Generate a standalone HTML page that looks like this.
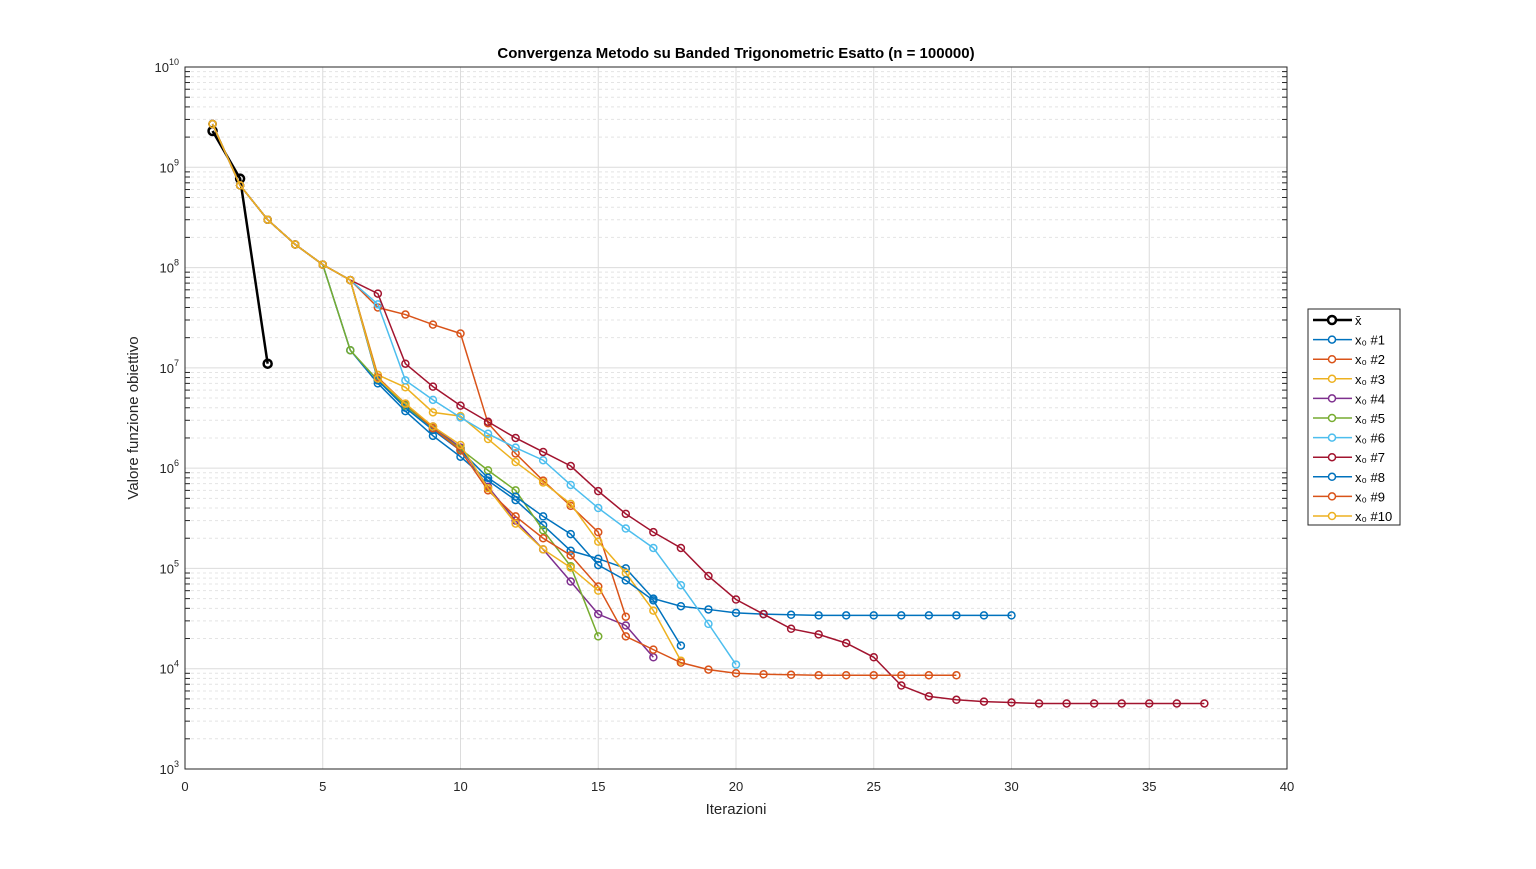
<!DOCTYPE html>
<html><head><meta charset="utf-8"><style>
body{margin:0;background:#fff;width:1536px;height:864px;overflow:hidden;font-family:"Liberation Sans",Arial,sans-serif}
svg text{font-family:"Liberation Sans",Arial,sans-serif}
</style></head><body>
<svg id="chart" width="1536" height="864" xmlns="http://www.w3.org/2000/svg">
<rect x="0" y="0" width="1536" height="864" fill="#fff"/>
<rect x="185" y="67" width="1102" height="702" fill="#fff"/>
<g id="grid"></g>
<g id="axes"></g>
<g id="series"></g>
<text x="736" y="58" text-anchor="middle" font-size="15" font-weight="bold" fill="#000">Convergenza Metodo su Banded Trigonometric Esatto (n = 100000)</text>
<text x="736" y="814" text-anchor="middle" font-size="15" fill="#262626">Iterazioni</text>
<text transform="translate(138,418) rotate(-90)" text-anchor="middle" font-size="15" fill="#262626">Valore funzione obiettivo</text>
<g id="legend"></g>
</svg>
<script>
const xTicks=[0,5,10,15,20,25,30,35,40];
const yExp=[3,4,5,6,7,8,9,10];
const seriesNames=["x̄","x₀ #1","x₀ #2","x₀ #3","x₀ #4","x₀ #5","x₀ #6","x₀ #7","x₀ #8","x₀ #9","x₀ #10"];
const common=[2.7e9,6.6e8,3.0e8,1.7e8,1.07e8];
const xbar=[2.3e9,7.7e8,1.1e7];
const s1=[1.5e7,7.0e6,3.7e6,2.1e6,1.3e6,7.5e5,4.8e5,2.7e5,1.5e5,1.25e5,1.0e5,5.0e4,4.2e4,3.9e4,3.6e4,3.5e4,3.45e4,3.4e4,3.4e4,3.4e4,3.4e4,3.4e4,3.4e4,3.4e4,3.4e4];
const s2=[7.5e7,4.0e7,3.4e7,2.7e7,2.2e7,2.8e6,1.4e6,7.5e5,4.2e5,2.3e5,3.3e4];
const s3=[7.5e7,8.5e6,6.4e6,3.6e6,3.3e6,1.95e6,1.15e6,7.2e5,4.4e5,1.85e5,9.0e4,3.8e4,1.2e4];
const s4=[7.5e7,8.0e6,4.3e6,2.6e6,1.6e6,6.5e5,3.0e5,1.55e5,7.4e4,3.5e4,2.7e4,1.3e4];
const s5=[1.5e7,7.5e6,4.2e6,2.5e6,1.55e6,9.5e5,6.0e5,2.4e5,1.05e5,2.1e4];
const s6=[7.5e7,4.3e7,7.5e6,4.8e6,3.2e6,2.2e6,1.6e6,1.2e6,6.8e5,4.0e5,2.5e5,1.6e5,6.8e4,2.8e4,1.1e4];
const s7=[7.5e7,5.5e7,1.1e7,6.5e6,4.2e6,2.9e6,2.0e6,1.45e6,1.05e6,5.9e5,3.5e5,2.3e5,1.6e5,8.4e4,4.9e4,3.5e4,2.5e4,2.2e4,1.8e4,1.3e4,6.8e3,5.3e3,4.9e3,4.7e3,4.6e3,4.5e3,4.5e3,4.5e3,4.5e3,4.5e3,4.5e3,4.5e3];
const s8=[7.5e7,7.5e6,4.0e6,2.4e6,1.5e6,8.0e5,5.2e5,3.3e5,2.2e5,1.08e5,7.6e4,4.8e4,1.7e4];
const s9=[7.5e7,8.0e6,4.4e6,2.5e6,1.5e6,6.0e5,3.3e5,2.0e5,1.35e5,6.6e4,2.1e4,1.55e4,1.15e4,9.8e3,9.0e3,8.8e3,8.7e3,8.6e3,8.6e3,8.6e3,8.6e3,8.6e3,8.6e3];
const s10=[7.5e7,7.8e6,4.4e6,2.6e6,1.7e6,6.3e5,2.8e5,1.55e5,1.02e5,6.0e4];
const colors=["#000","#0072BD","#D95319","#EDB120","#7E2F8E","#77AC30","#4DBEEE","#A2142F","#0072BD","#D95319","#EDB120"];

const X0=185,X1=1287,Y0=769,Y1=67;
const xs=v=>X0+(v-0)/(40-0)*(X1-X0);
const ys=v=>Y0-(Math.log10(v)-3)/(10-3)*(Y0-Y1);
const NS="http://www.w3.org/2000/svg";
function mk(tag,attrs,parent){const e=document.createElementNS(NS,tag);for(const k in attrs)e.setAttribute(k,attrs[k]);parent.appendChild(e);return e;}
const grid=document.getElementById('grid'),axes=document.getElementById('axes'),ser=document.getElementById('series'),leg=document.getElementById('legend');

for(const e of yExp){
  if(e<10){for(let m=2;m<=9;m++){const y=ys(m*Math.pow(10,e));
    const l=mk('line',{x1:X0,x2:X1,y1:y,y2:y,stroke:'#e4e4e4','stroke-width':1,'stroke-dasharray':'3,3'},grid);
    
    const t=mk('line',{x1:X0,x2:X0+5,y1:y,y2:y,stroke:'#262626','stroke-width':1},axes);
    
    const t2=mk('line',{x1:X1,x2:X1-5,y1:y,y2:y,stroke:'#262626','stroke-width':1},axes);
    }}
  const y=ys(Math.pow(10,e));
  const l=mk('line',{x1:X0,x2:X1,y1:y,y2:y,stroke:'#dcdcdc','stroke-width':1},grid);
  
  const t=mk('text',{x:X0-6,y:y+5,'text-anchor':'end','font-size':13,fill:'#262626'},axes);
  
  t.textContent='10';const sp=mk('tspan',{dy:-7,'font-size':9},t);sp.textContent=e;
}
for(const v of xTicks){const x=xs(v);
  const l=mk('line',{x1:x,x2:x,y1:Y1,y2:Y0,stroke:'#dcdcdc','stroke-width':1},grid);
  
  const t=mk('text',{x:x,y:Y0+22,'text-anchor':'middle','font-size':13,fill:'#262626'},axes);
  
  t.textContent=v;}
const box=mk('rect',{x:X0,y:Y1,width:X1-X0,height:Y0-Y1,fill:'none',stroke:'#262626','stroke-width':1},axes);


const all=[xbar,common.concat(s1),common.concat(s2),common.concat(s3),common.concat(s4),common.concat(s5),common.concat(s6),common.concat(s7),common.concat(s8),common.concat(s9),common.concat(s10)];
const order=[0,1,2,3,4,5,6,7,8,9,10];
for(const i of order){const d=all[i];const w=i===0?2.5:1.5;
  const g=mk('g',{},ser);
  const pts=d.map((v,k)=>xs(k+1)+','+ys(v)).join(' ');
  const pl=mk('polyline',{points:pts,fill:'none',stroke:colors[i],'stroke-width':w},g);
  
  d.forEach((v,k)=>{const c=mk('circle',{cx:xs(k+1),cy:ys(v),r:i===0?4:3.5,fill:'none',stroke:colors[i],'stroke-width':w},g);
    });
}
const lb=mk('rect',{x:1308,y:309,width:92,height:216,fill:'#fff',stroke:'#262626','stroke-width':1},leg);

seriesNames.forEach((n,i)=>{const y=320+i*19.6;const w=i===0?2.5:1.5;
  const g=mk('g',{},leg);
  mk('line',{x1:1313,x2:1352,y1:y,y2:y,stroke:colors[i],'stroke-width':w},g);
  mk('circle',{cx:1332,cy:y,r:i===0?4:3.5,fill:'#fff',stroke:colors[i],'stroke-width':w},g);
  const t=mk('text',{x:1355,y:y+5,'font-size':13,fill:'#000'},g);t.textContent=n;
});
</script>
</body></html>
